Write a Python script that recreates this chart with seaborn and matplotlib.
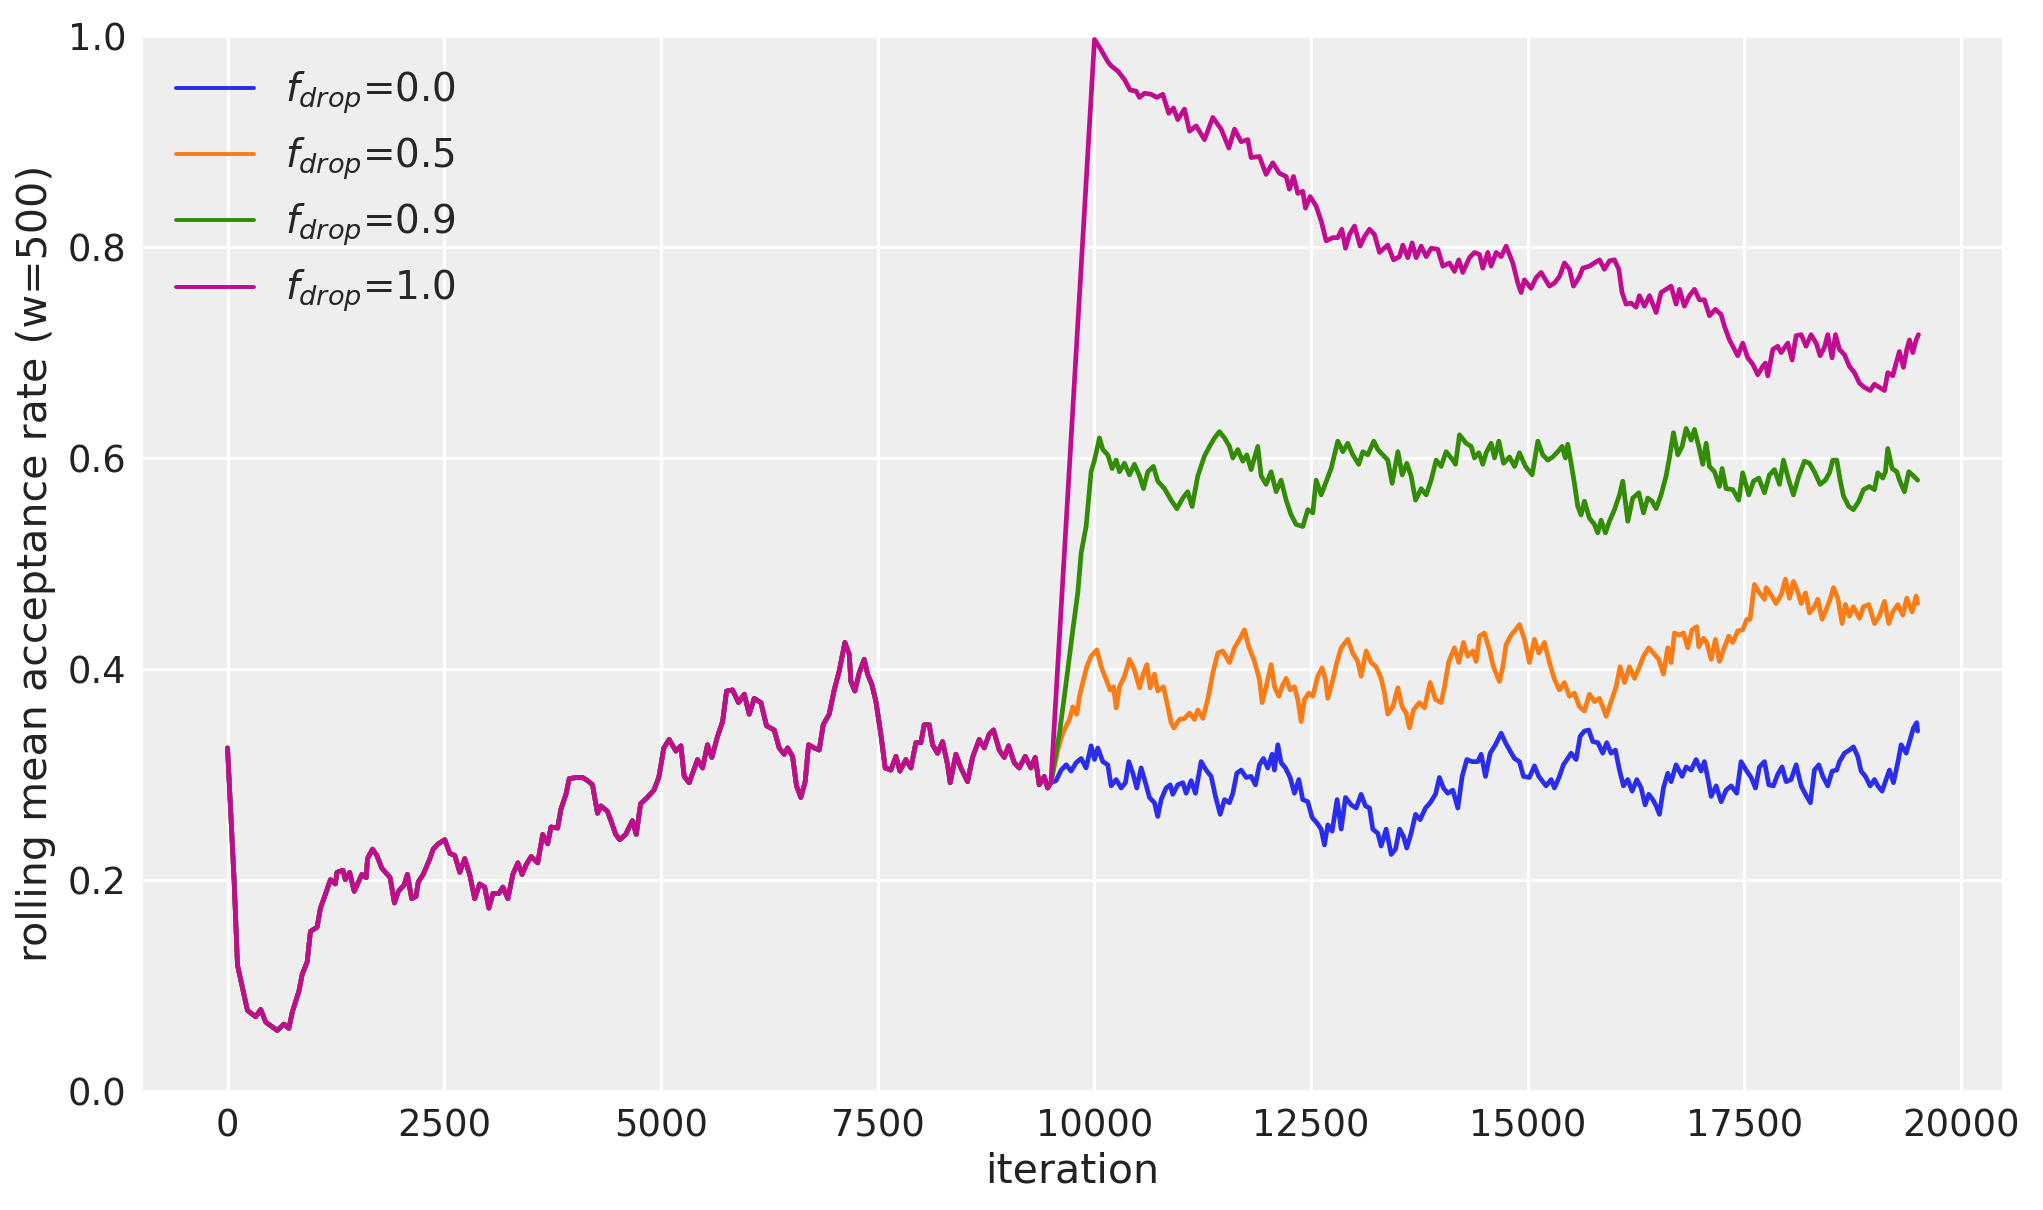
import numpy as np
import pandas as pd
import matplotlib
matplotlib.use("Agg")
import matplotlib.pyplot as plt
import seaborn as sns

# common part of the trace (all runs identical before the switch at ~9500)
shared_iter = [0, 77, 115, 230, 325, 383, 440, 574, 650, 708, 746, 823, 861, 919, 957,
               1034, 1072, 1129, 1187, 1244, 1263, 1332, 1359, 1409, 1462, 1512, 1550, 1600,
               1615, 1673, 1723, 1780, 1876, 1926, 1971, 2037, 2075, 2125, 2174, 2201, 2258,
               2335, 2373, 2431, 2507, 2565, 2622, 2680, 2737, 2794, 2852, 2909, 2967, 3016,
               3062, 3131, 3177, 3235, 3292, 3350, 3399, 3445, 3503, 3579, 3637, 3694, 3732,
               3809, 3847, 3905, 3943, 4039, 4096, 4154, 4211, 4269, 4307, 4383, 4441, 4479,
               4525, 4594, 4671, 4716, 4766, 4843, 4920, 4976, 5034, 5096, 5173, 5231, 5269,
               5327, 5423, 5481, 5538, 5588, 5654, 5712, 5758, 5827, 5896, 5962, 6019, 6077,
               6154, 6219, 6308, 6365, 6423, 6462, 6519, 6565, 6615, 6665, 6704, 6769, 6827,
               6873, 6942, 7000, 7058, 7123, 7173, 7192, 7238, 7288, 7346, 7385, 7435, 7481,
               7538, 7588, 7654, 7712, 7758, 7827, 7885, 7942, 8000, 8038, 8096, 8135, 8192,
               8250, 8308, 8338, 8404, 8462, 8538, 8596, 8673, 8731, 8788, 8838, 8904, 8962,
               9012, 9077, 9135, 9204, 9269, 9319, 9365, 9423, 9462, 9500]
shared_rate = [0.325, 0.198, 0.119, 0.076, 0.070, 0.077, 0.065, 0.057, 0.063, 0.059, 0.074,
               0.094, 0.110, 0.122, 0.151, 0.155, 0.173, 0.186, 0.200, 0.196, 0.207, 0.209,
               0.200, 0.207, 0.189, 0.198, 0.205, 0.202, 0.220, 0.229, 0.223, 0.211, 0.202,
               0.178, 0.189, 0.195, 0.205, 0.182, 0.184, 0.198, 0.205, 0.220, 0.229, 0.234,
               0.238, 0.225, 0.223, 0.207, 0.220, 0.205, 0.182, 0.196, 0.193, 0.173, 0.187,
               0.187, 0.193, 0.182, 0.205, 0.216, 0.205, 0.214, 0.222, 0.216, 0.243, 0.234,
               0.250, 0.249, 0.267, 0.281, 0.296, 0.297, 0.297, 0.294, 0.290, 0.263, 0.270,
               0.265, 0.252, 0.243, 0.238, 0.243, 0.256, 0.243, 0.272, 0.278, 0.285, 0.297,
               0.325, 0.333, 0.322, 0.327, 0.298, 0.292, 0.314, 0.306, 0.328, 0.316, 0.336,
               0.350, 0.379, 0.380, 0.368, 0.376, 0.357, 0.372, 0.368, 0.346, 0.342, 0.325,
               0.319, 0.325, 0.317, 0.289, 0.278, 0.293, 0.328, 0.325, 0.323, 0.347, 0.357,
               0.380, 0.398, 0.425, 0.414, 0.388, 0.379, 0.396, 0.409, 0.395, 0.385, 0.369,
               0.338, 0.306, 0.304, 0.317, 0.303, 0.314, 0.306, 0.330, 0.330, 0.347, 0.347,
               0.328, 0.320, 0.331, 0.309, 0.292, 0.319, 0.306, 0.293, 0.316, 0.333, 0.325,
               0.338, 0.342, 0.323, 0.316, 0.327, 0.311, 0.306, 0.317, 0.306, 0.316, 0.290,
               0.298, 0.287, 0.292]

# f_drop = 0.0
iter_00 = [9560, 9618, 9676, 9733, 9791, 9849, 9906, 9964, 10003, 10041, 10099, 10156, 10195,
           10253, 10310, 10360, 10399, 10445, 10491, 10541, 10591, 10637, 10695, 10733, 10772,
           10829, 10876, 10906, 10964, 11022, 11060, 11118, 11168, 11233, 11291, 11349, 11399,
           11453, 11503, 11560, 11599, 11645, 11695, 11753, 11810, 11860, 11906, 11952, 12002,
           12052, 12079, 12118, 12156, 12206, 12260, 12310, 12360, 12406, 12464, 12514, 12568,
           12618, 12656, 12695, 12745, 12802, 12849, 12899, 12964, 13022, 13079, 13129, 13176,
           13214, 13272, 13310, 13368, 13426, 13476, 13522, 13568, 13606, 13656, 13707, 13760,
           13822, 13876, 13937, 13983, 14029, 14079, 14137, 14195, 14245, 14299, 14360, 14426,
           14464, 14514, 14568, 14629, 14695, 14745, 14799, 14849, 14906, 14952, 15021, 15079,
           15129, 15213, 15271, 15310, 15367, 15413, 15463, 15502, 15560, 15606, 15656, 15706,
           15752, 15810, 15867, 15913, 15963, 16013, 16060, 16106, 16156, 16206, 16260, 16310,
           16356, 16398, 16444, 16483, 16521, 16567, 16617, 16656, 16713, 16783, 16829, 16887,
           16944, 17002, 17040, 17090, 17117, 17175, 17233, 17290, 17348, 17413, 17463, 17521,
           17579, 17629, 17675, 17733, 17783, 17836, 17886, 17936, 17983, 18040, 18098, 18156,
           18206, 18263, 18309, 18360, 18406, 18463, 18513, 18567, 18598, 18656, 18713, 18759,
           18809, 18848, 18898, 18952, 19002, 19040, 19090, 19136, 19175, 19221, 19271, 19310,
           19368, 19413, 19452, 19490, 19500]
rate_00 = [0.294, 0.304, 0.309, 0.303, 0.311, 0.315, 0.306, 0.327, 0.314, 0.325, 0.312, 0.309,
           0.289, 0.295, 0.287, 0.292, 0.312, 0.301, 0.287, 0.306, 0.292, 0.278, 0.273, 0.260,
           0.276, 0.287, 0.290, 0.281, 0.290, 0.292, 0.282, 0.294, 0.282, 0.312, 0.304, 0.298,
           0.279, 0.262, 0.276, 0.273, 0.282, 0.301, 0.304, 0.297, 0.298, 0.290, 0.309, 0.315,
           0.306, 0.319, 0.304, 0.328, 0.311, 0.306, 0.297, 0.282, 0.295, 0.276, 0.274, 0.259,
           0.254, 0.248, 0.233, 0.252, 0.246, 0.276, 0.248, 0.278, 0.271, 0.268, 0.281, 0.270,
           0.268, 0.248, 0.244, 0.232, 0.248, 0.224, 0.229, 0.248, 0.241, 0.230, 0.244, 0.262,
           0.257, 0.268, 0.273, 0.281, 0.297, 0.287, 0.282, 0.285, 0.268, 0.298, 0.314, 0.312,
           0.312, 0.319, 0.298, 0.320, 0.328, 0.339, 0.330, 0.322, 0.315, 0.312, 0.298, 0.297,
           0.308, 0.298, 0.289, 0.295, 0.287, 0.298, 0.309, 0.315, 0.320, 0.314, 0.336, 0.341,
           0.342, 0.331, 0.330, 0.320, 0.330, 0.320, 0.323, 0.304, 0.289, 0.295, 0.284, 0.295,
           0.287, 0.271, 0.281, 0.276, 0.270, 0.262, 0.287, 0.301, 0.293, 0.309, 0.298, 0.307,
           0.304, 0.314, 0.303, 0.312, 0.292, 0.279, 0.289, 0.274, 0.285, 0.289, 0.282, 0.312,
           0.304, 0.297, 0.287, 0.307, 0.312, 0.290, 0.289, 0.300, 0.307, 0.293, 0.295, 0.309,
           0.289, 0.281, 0.273, 0.304, 0.309, 0.298, 0.289, 0.303, 0.304, 0.312, 0.320, 0.323,
           0.326, 0.317, 0.303, 0.298, 0.289, 0.295, 0.289, 0.284, 0.295, 0.304, 0.292, 0.311,
           0.328, 0.320, 0.333, 0.344, 0.349, 0.341]

# f_drop = 0.5
iter_05 = [9580, 9637, 9714, 9753, 9799, 9830, 9868, 9914, 9964, 10030, 10080, 10137, 10183,
           10222, 10253, 10291, 10349, 10406, 10464, 10522, 10568, 10607, 10645, 10695, 10733,
           10799, 10849, 10887, 10918, 10983, 11041, 11099, 11156, 11195, 11253, 11310, 11368,
           11426, 11483, 11560, 11618, 11676, 11733, 11783, 11849, 11906, 11937, 11983, 12041,
           12080, 12129, 12176, 12214, 12260, 12310, 12349, 12387, 12426, 12475, 12522, 12579,
           12629, 12668, 12695, 12745, 12799, 12849, 12925, 12983, 13041, 13079, 13137, 13195,
           13252, 13310, 13349, 13387, 13445, 13503, 13553, 13599, 13637, 13683, 13752, 13810,
           13876, 13937, 14002, 14041, 14091, 14156, 14206, 14260, 14310, 14368, 14406, 14445,
           14502, 14560, 14606, 14675, 14714, 14752, 14810, 14860, 14906, 14964, 15021, 15079,
           15129, 15194, 15252, 15310, 15367, 15425, 15483, 15540, 15598, 15656, 15713, 15771,
           15829, 15867, 15906, 15963, 16021, 16067, 16117, 16175, 16233, 16290, 16337, 16398,
           16452, 16513, 16567, 16617, 16656, 16694, 16752, 16798, 16848, 16898, 16952, 16975,
           17029, 17067, 17117, 17167, 17213, 17260, 17321, 17367, 17425, 17482, 17529, 17567,
           17617, 17675, 17733, 17752, 17810, 17867, 17925, 17975, 18021, 18067, 18117, 18156,
           18206, 18252, 18309, 18348, 18398, 18444, 18490, 18529, 18579, 18629, 18667, 18713,
           18759, 18829, 18875, 18936, 19002, 19059, 19117, 19167, 19213, 19271, 19329, 19375,
           19436, 19483, 19500]
rate_05 = [0.323, 0.339, 0.352, 0.364, 0.357, 0.374, 0.387, 0.402, 0.412, 0.418, 0.402, 0.390,
           0.380, 0.383, 0.363, 0.383, 0.393, 0.409, 0.399, 0.382, 0.396, 0.404, 0.382, 0.395,
           0.379, 0.383, 0.364, 0.349, 0.344, 0.352, 0.353, 0.358, 0.352, 0.361, 0.353, 0.371,
           0.396, 0.415, 0.417, 0.406, 0.420, 0.428, 0.437, 0.421, 0.407, 0.390, 0.368, 0.383,
           0.404, 0.383, 0.374, 0.385, 0.391, 0.380, 0.383, 0.371, 0.350, 0.371, 0.377, 0.374,
           0.393, 0.401, 0.390, 0.372, 0.387, 0.406, 0.420, 0.428, 0.415, 0.407, 0.393, 0.417,
           0.406, 0.402, 0.391, 0.377, 0.357, 0.364, 0.382, 0.364, 0.358, 0.344, 0.361, 0.368,
           0.363, 0.387, 0.371, 0.368, 0.383, 0.407, 0.420, 0.406, 0.425, 0.412, 0.417, 0.407,
           0.431, 0.434, 0.418, 0.402, 0.388, 0.402, 0.423, 0.432, 0.437, 0.442, 0.428, 0.406,
           0.428, 0.415, 0.425, 0.406, 0.390, 0.380, 0.387, 0.374, 0.377, 0.364, 0.360, 0.376,
           0.369, 0.372, 0.364, 0.355, 0.369, 0.383, 0.402, 0.387, 0.402, 0.391, 0.402, 0.412,
           0.420, 0.415, 0.409, 0.395, 0.420, 0.406, 0.434, 0.432, 0.434, 0.420, 0.437, 0.440,
           0.421, 0.429, 0.425, 0.409, 0.428, 0.407, 0.418, 0.431, 0.425, 0.436, 0.437, 0.447,
           0.447, 0.480, 0.472, 0.466, 0.477, 0.470, 0.462, 0.470, 0.485, 0.467, 0.483, 0.473,
           0.462, 0.472, 0.453, 0.459, 0.466, 0.447, 0.456, 0.466, 0.477, 0.467, 0.443, 0.461,
           0.450, 0.459, 0.448, 0.459, 0.461, 0.443, 0.450, 0.464, 0.443, 0.454, 0.461, 0.451,
           0.467, 0.454, 0.469, 0.462]

# f_drop = 0.9
iter_09 = [9599, 9676, 9753, 9810, 9849, 9906, 9964, 10003, 10060, 10099, 10156, 10206, 10253,
           10291, 10349, 10406, 10464, 10522, 10568, 10618, 10683, 10733, 10810, 10887, 10953,
           11022, 11079, 11129, 11195, 11272, 11330, 11387, 11445, 11503, 11560, 11599, 11656,
           11714, 11760, 11810, 11887, 11926, 11983, 12041, 12099, 12156, 12214, 12272, 12329,
           12406, 12464, 12522, 12560, 12618, 12683, 12733, 12810, 12868, 12925, 12983, 13052,
           13099, 13156, 13225, 13272, 13330, 13387, 13437, 13503, 13553, 13606, 13656, 13707,
           13772, 13830, 13887, 13945, 14002, 14060, 14137, 14168, 14214, 14291, 14349, 14387,
           14437, 14483, 14522, 14580, 14618, 14668, 14722, 14791, 14849, 14906, 14976, 15052,
           15118, 15175, 15233, 15290, 15348, 15398, 15436, 15463, 15502, 15540, 15579, 15617,
           15656, 15713, 15771, 15810, 15848, 15898, 15944, 16002, 16060, 16098, 16156, 16213,
           16283, 16337, 16386, 16436, 16483, 16540, 16598, 16636, 16683, 16733, 16783, 16829,
           16887, 16925, 16975, 17021, 17060, 17098, 17156, 17213, 17244, 17290, 17367, 17436,
           17482, 17552, 17606, 17667, 17733, 17790, 17848, 17906, 17952, 18013, 18067, 18129,
           18194, 18252, 18309, 18375, 18436, 18483, 18521, 18567, 18606, 18644, 18706, 18759,
           18821, 18875, 18944, 19002, 19040, 19098, 19129, 19155, 19206, 19260, 19290, 19348,
           19398, 19452, 19500]
rate_09 = [0.339, 0.387, 0.437, 0.472, 0.510, 0.535, 0.587, 0.598, 0.619, 0.608, 0.603, 0.590,
           0.598, 0.587, 0.595, 0.584, 0.594, 0.583, 0.571, 0.587, 0.592, 0.578, 0.571, 0.560,
           0.552, 0.562, 0.568, 0.554, 0.583, 0.602, 0.611, 0.619, 0.625, 0.619, 0.611, 0.600,
           0.608, 0.597, 0.603, 0.589, 0.611, 0.583, 0.575, 0.587, 0.568, 0.579, 0.560, 0.546,
           0.537, 0.535, 0.551, 0.548, 0.579, 0.565, 0.579, 0.590, 0.616, 0.606, 0.614, 0.603,
           0.594, 0.606, 0.603, 0.616, 0.608, 0.603, 0.598, 0.576, 0.606, 0.584, 0.595, 0.583,
           0.560, 0.571, 0.565, 0.579, 0.598, 0.592, 0.606, 0.598, 0.594, 0.622, 0.614, 0.611,
           0.600, 0.605, 0.594, 0.605, 0.614, 0.600, 0.616, 0.595, 0.601, 0.592, 0.605, 0.592,
           0.584, 0.616, 0.603, 0.598, 0.601, 0.606, 0.611, 0.600, 0.613, 0.595, 0.576, 0.554,
           0.546, 0.559, 0.543, 0.537, 0.529, 0.541, 0.529, 0.540, 0.551, 0.565, 0.578, 0.540,
           0.562, 0.567, 0.548, 0.562, 0.559, 0.552, 0.565, 0.583, 0.600, 0.624, 0.603, 0.611,
           0.628, 0.617, 0.627, 0.611, 0.594, 0.614, 0.592, 0.587, 0.573, 0.590, 0.571, 0.570,
           0.560, 0.586, 0.565, 0.578, 0.581, 0.567, 0.584, 0.589, 0.575, 0.598, 0.579, 0.565,
           0.583, 0.597, 0.595, 0.587, 0.575, 0.579, 0.586, 0.598, 0.598, 0.579, 0.564, 0.554,
           0.551, 0.559, 0.570, 0.573, 0.570, 0.586, 0.581, 0.587, 0.609, 0.590, 0.587, 0.579,
           0.568, 0.587, 0.583, 0.579]

# f_drop = 1.0
iter_10 = [10003, 10080, 10156, 10195, 10272, 10349, 10414, 10483, 10522, 10580, 10657, 10722,
           10791, 10860, 10914, 10964, 11041, 11099, 11176, 11272, 11368, 11464, 11553, 11618,
           11695, 11772, 11810, 11906, 11983, 12060, 12137, 12214, 12252, 12299, 12349, 12406,
           12437, 12491, 12560, 12618, 12676, 12752, 12810, 12856, 12899, 12945, 13003, 13068,
           13118, 13176, 13233, 13291, 13387, 13453, 13522, 13560, 13618, 13668, 13714, 13772,
           13830, 13887, 13964, 14022, 14099, 14156, 14206, 14252, 14329, 14387, 14445, 14483,
           14541, 14579, 14637, 14695, 14752, 14829, 14887, 14925, 14963, 15040, 15098, 15156,
           15252, 15310, 15367, 15425, 15483, 15529, 15598, 15636, 15713, 15771, 15829, 15886,
           15944, 16002, 16052, 16090, 16136, 16194, 16252, 16290, 16348, 16406, 16483, 16540,
           16598, 16656, 16713, 16752, 16809, 16867, 16925, 16983, 17040, 17098, 17167, 17233,
           17271, 17329, 17367, 17425, 17482, 17540, 17598, 17656, 17713, 17744, 17771, 17829,
           17886, 17925, 18002, 18052, 18098, 18156, 18213, 18271, 18329, 18375, 18425, 18463,
           18513, 18552, 18598, 18656, 18713, 18771, 18829, 18886, 18952, 19002, 19059, 19117,
           19156, 19213, 19252, 19290, 19336, 19375, 19406, 19444, 19483, 19510]
rate_10 = [0.997, 0.987, 0.976, 0.972, 0.967, 0.959, 0.949, 0.948, 0.942, 0.946, 0.945, 0.942,
           0.945, 0.927, 0.932, 0.921, 0.931, 0.910, 0.915, 0.902, 0.923, 0.912, 0.894, 0.912,
           0.900, 0.902, 0.885, 0.886, 0.869, 0.880, 0.870, 0.867, 0.855, 0.867, 0.851, 0.853,
           0.837, 0.848, 0.839, 0.825, 0.806, 0.809, 0.809, 0.817, 0.799, 0.812, 0.820, 0.801,
           0.810, 0.817, 0.812, 0.795, 0.802, 0.788, 0.791, 0.802, 0.790, 0.804, 0.790, 0.801,
           0.791, 0.799, 0.798, 0.782, 0.785, 0.777, 0.788, 0.776, 0.790, 0.795, 0.793, 0.780,
           0.795, 0.782, 0.795, 0.791, 0.801, 0.785, 0.766, 0.757, 0.769, 0.761, 0.771, 0.776,
           0.763, 0.766, 0.772, 0.785, 0.779, 0.763, 0.772, 0.780, 0.782, 0.785, 0.788, 0.779,
           0.787, 0.788, 0.779, 0.757, 0.746, 0.747, 0.743, 0.754, 0.744, 0.754, 0.738, 0.757,
           0.760, 0.763, 0.746, 0.760, 0.744, 0.754, 0.760, 0.750, 0.750, 0.735, 0.741, 0.736,
           0.725, 0.712, 0.706, 0.697, 0.709, 0.695, 0.689, 0.679, 0.687, 0.690, 0.678, 0.703,
           0.706, 0.700, 0.709, 0.693, 0.716, 0.717, 0.706, 0.717, 0.709, 0.697, 0.705, 0.717,
           0.695, 0.717, 0.703, 0.698, 0.687, 0.681, 0.671, 0.667, 0.664, 0.670, 0.667, 0.664,
           0.681, 0.678, 0.690, 0.701, 0.686, 0.703, 0.712, 0.700, 0.712, 0.717]

f_drop = [0.0, 0.5, 0.9, 1.0]
tails = [(iter_00, rate_00), (iter_05, rate_05), (iter_09, rate_09), (iter_10, rate_10)]
colors = ["#2a2eec", "#fa7c17", "#328c06", "#c10c90"]

frames = []
for f, (it, r) in zip(f_drop, tails):
    frames.append(pd.DataFrame({
        "iteration": shared_iter + it,
        "rate": shared_rate + r,
        "label": r"$f_{drop}$=" + f"{f}",
    }))
df = pd.concat(frames, ignore_index=True)

sns.set_style("darkgrid", {"axes.facecolor": "#eeeeee", "grid.color": "white",
                           "axes.edgecolor": "#eeeeee"})
plt.rcParams["font.family"] = ["DejaVu Sans"]

fig = plt.figure(figsize=(2043 / 200, 1210 / 200), dpi=200)
ax = fig.add_axes([0.070, 0.0987, 0.910, 0.8713])
sns.lineplot(data=df, x="iteration", y="rate", hue="label", palette=colors,
             estimator=None, sort=False, linewidth=1.7, ax=ax)

ax.set_ylim(0, 1)
ax.set_xlim(-975, 20475)
ax.set_xlabel("iteration", fontsize=14.8, color="#222222", labelpad=2.5)
ax.set_ylabel("rolling mean acceptance rate (w=500)", fontsize=14.8, color="#222222")
ax.tick_params(labelsize=13.3, length=0, pad=6, labelcolor="#222222")
ax.grid(True, color="white", linewidth=1.0)
for s in ax.spines.values():
    s.set_visible(False)

leg = ax.legend(title=None, loc="upper left", frameon=False, fontsize=14,
                handlelength=2.0, handletextpad=0.8, borderaxespad=0.45,
                labelspacing=0.5)
for line in leg.get_lines():
    line.set_linewidth(1.4)

fig.savefig("out.png", dpi=200)
